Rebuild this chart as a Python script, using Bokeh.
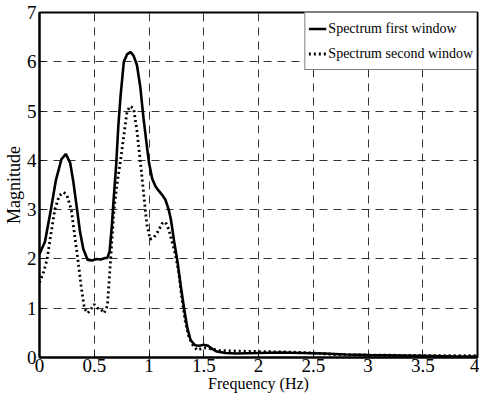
from bokeh.plotting import figure
from bokeh.models import Range1d, FixedTicker, Legend, LegendItem
from bokeh.embed import file_html
from bokeh.resources import INLINE

# Spectrum first window (solid)
freq1 = [0.00, 0.05, 0.10, 0.15, 0.20, 0.24, 0.28, 0.31, 0.34, 0.37, 0.40, 0.44,
         0.48, 0.52, 0.56, 0.60, 0.62, 0.64, 0.66, 0.68, 0.70, 0.72, 0.74, 0.77,
         0.80, 0.83, 0.86, 0.89, 0.92, 0.95, 0.98, 1.00, 1.03, 1.06, 1.09, 1.12,
         1.15, 1.18, 1.20, 1.23, 1.26, 1.29, 1.32, 1.35, 1.38, 1.42, 1.46, 1.50,
         1.54, 1.58, 1.62, 1.70, 1.80, 2.00, 2.20, 2.40, 2.60, 2.80, 3.00, 3.30,
         3.60, 3.80, 4.00]
mag1 = [2.10, 2.35, 2.95, 3.60, 4.02, 4.13, 3.95, 3.55, 3.05, 2.55, 2.20, 1.98,
        1.97, 2.00, 1.99, 2.02, 2.02, 2.15, 2.65, 3.30, 3.90, 4.70, 5.30, 6.00,
        6.15, 6.20, 6.12, 5.93, 5.50, 4.85, 4.30, 3.95, 3.62, 3.47, 3.38, 3.30,
        3.20, 3.00, 2.80, 2.35, 1.95, 1.45, 1.00, 0.60, 0.35, 0.25, 0.24, 0.26,
        0.24, 0.17, 0.12, 0.09, 0.08, 0.09, 0.10, 0.09, 0.08, 0.06, 0.05, 0.04,
        0.03, 0.02, 0.02]

# Spectrum second window (dotted)
freq2 = [0.00, 0.04, 0.07, 0.10, 0.14, 0.18, 0.22, 0.25, 0.29, 0.32, 0.35, 0.38,
         0.41, 0.44, 0.47, 0.50, 0.53, 0.56, 0.59, 0.62, 0.65, 0.68, 0.71, 0.74,
         0.77, 0.80, 0.83, 0.86, 0.89, 0.92, 0.95, 0.98, 1.01, 1.04, 1.08, 1.12,
         1.15, 1.18, 1.21, 1.24, 1.27, 1.30, 1.33, 1.36, 1.40, 1.44, 1.48, 1.52,
         1.58, 1.65, 1.80, 2.00, 2.30, 2.50, 2.70, 3.00, 3.50, 4.00]
mag2 = [1.52, 1.75, 2.00, 2.45, 3.00, 3.28, 3.35, 3.30, 3.00, 2.50, 2.00, 1.45,
        1.00, 0.90, 0.98, 1.08, 1.00, 0.98, 0.90, 1.05, 2.00, 3.00, 3.55, 4.00,
        4.50, 5.00, 5.10, 5.05, 4.60, 4.00, 3.35, 2.70, 2.40, 2.42, 2.55, 2.72,
        2.75, 2.60, 2.35, 2.10, 1.75, 1.20, 0.75, 0.45, 0.25, 0.15, 0.18, 0.20,
        0.17, 0.14, 0.13, 0.12, 0.11, 0.09, 0.06, 0.05, 0.04, 0.04]

x_ticks = [0, 0.5, 1, 1.5, 2, 2.5, 3, 3.5, 4]
x_tick_labels = ["0", "0.5", "1", "1.5", "2", "2.5", "3", "3.5", "4"]
y_ticks = [0, 1, 2, 3, 4, 5, 6, 7]
y_tick_labels = ["0", "1", "2", "3", "4", "5", "6", "7"]
series_names = ["Spectrum first window", "Spectrum second window"]

FONT = "Liberation Serif"

p = figure(width=479, height=397, output_backend="svg", toolbar_location=None,
           x_range=Range1d(0, 4), y_range=Range1d(0, 7),
           min_border_left=33, min_border_right=2, min_border_top=12, min_border_bottom=40)
p.background_fill_color = "white"
p.border_fill_color = "white"
p.outline_line_color = "black"
p.outline_line_width = 2

for ax in (p.xaxis[0], p.yaxis[0]):
    ax.axis_line_width = 2
    ax.axis_line_color = "black"
    ax.major_tick_in = 4
    ax.major_tick_out = 0
    ax.minor_tick_in = 0
    ax.minor_tick_out = 0
    ax.major_tick_line_color = "black"
    ax.major_label_text_font = FONT
    ax.major_label_text_font_size = "19px"
    ax.major_label_text_color = "black"
    ax.axis_label_text_font = FONT
    ax.axis_label_text_font_style = "normal"
    ax.axis_label_text_color = "black"

p.xaxis[0].axis_label_text_font_size = "16px"
p.yaxis[0].axis_label_text_font_size = "18px"
p.xaxis[0].ticker = FixedTicker(ticks=x_ticks)
p.xaxis[0].major_label_overrides = {t: l for t, l in zip(x_ticks, x_tick_labels)}
p.yaxis[0].ticker = FixedTicker(ticks=y_ticks)
p.yaxis[0].major_label_overrides = {t: l for t, l in zip(y_ticks, y_tick_labels)}
p.xaxis[0].axis_label = "Frequency (Hz)"
p.yaxis[0].axis_label = "Magnitude"
p.xaxis[0].major_label_standoff = 1
p.yaxis[0].major_label_standoff = 3
p.xaxis[0].axis_label_standoff = 0
p.yaxis[0].axis_label_standoff = 0

for g in (p.xgrid[0], p.ygrid[0]):
    g.grid_line_color = "#333333"
    g.grid_line_width = 1
    g.grid_line_dash = "8 6"

r1 = p.line(freq1, mag1, line_color="black", line_width=2.6)
r2 = p.line(freq2, mag2, line_color="black", line_width=2.8, line_dash="2 3")

legend = Legend(items=[LegendItem(label=series_names[0], renderers=[r1]),
                       LegendItem(label=series_names[1], renderers=[r2])],
                location="top_right")
legend.margin = 0
legend.padding = 3
legend.spacing = 0
legend.glyph_width = 18
legend.glyph_height = 25
legend.label_height = 25
legend.label_standoff = 2
legend.label_text_font = FONT
legend.label_text_font_size = "14px"
legend.label_text_color = "black"
legend.border_line_color = "black"
legend.border_line_width = 1.5
legend.background_fill_color = "white"
legend.background_fill_alpha = 1
p.add_layout(legend, "center")

open("out.html", "w").write(file_html(p, INLINE))
